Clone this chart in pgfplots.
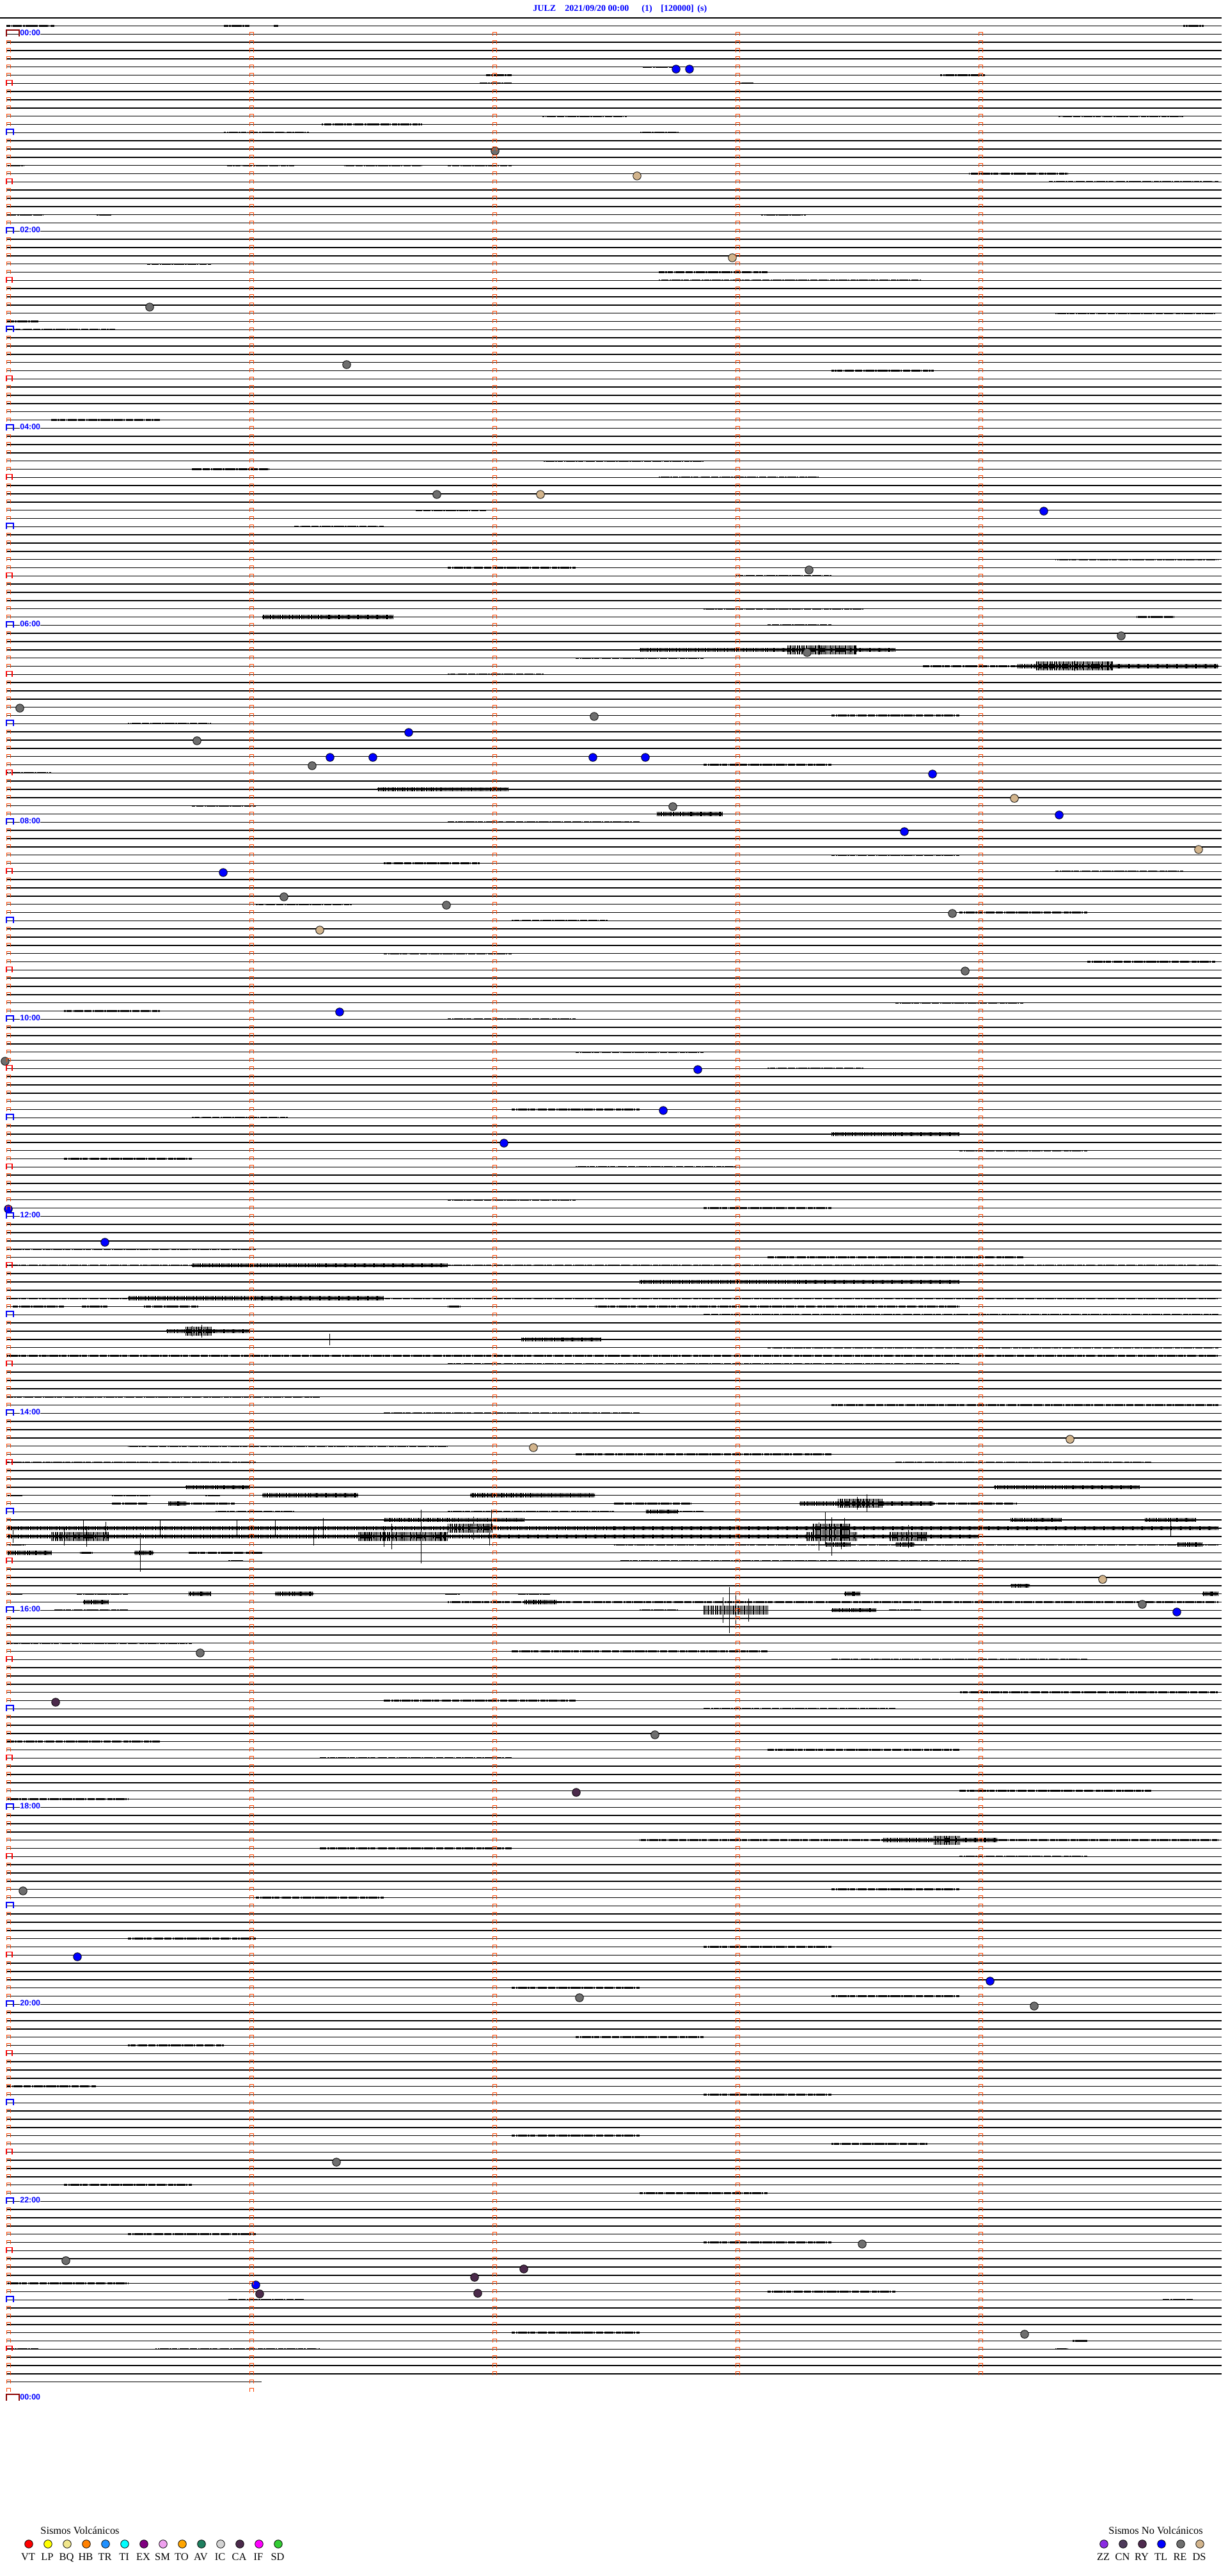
\documentclass[border=0pt]{standalone}
\usepackage{pgfplots}
\usepackage{pgfplotstable}
\pgfplotsset{compat=1.18}
\usepackage{fontspec}
\setmainfont{Liberation Serif}
\newfontfamily\labfont{Liberation Sans}
\definecolor{mko}{HTML}{FF4500}
\definecolor{brk}{HTML}{8B0000}
\definecolor{cVT}{HTML}{FF0000}\definecolor{cLP}{HTML}{FFFF00}\definecolor{cBQ}{HTML}{F0E68C}
\definecolor{cHB}{HTML}{FF8000}\definecolor{cTR}{HTML}{1E90FF}\definecolor{cTI}{HTML}{00FFFF}
\definecolor{cEX}{HTML}{800080}\definecolor{cSM}{HTML}{EEA0EE}\definecolor{cTO}{HTML}{FFA500}
\definecolor{cAV}{HTML}{1F7F5F}\definecolor{cIC}{HTML}{D3D3D3}\definecolor{cCA}{HTML}{4B2A4B}
\definecolor{cIF}{HTML}{FF00FF}\definecolor{cSD}{HTML}{33CC33}
\definecolor{cZZ}{HTML}{8A2BE2}\definecolor{cCN}{HTML}{4E3A5A}\definecolor{cRY}{HTML}{4E2A4E}
\definecolor{cTL}{HTML}{0000FF}\definecolor{cRE}{HTML}{6E6E6E}\definecolor{cDS}{HTML}{D2B48C}

% light noise segments: line index k, start px, end px
\pgfplotstableread{
k a b
-1 10 85
-1 350 390
-1 428 435
-1 1850 1882
2 1370 1440
3 350 526
3 1855 1888
4 1005 1060
5 760 800
5 1470 1540
6 750 800
6 1155 1178
7 373 430
7 690 800
7 1103 1183
7 1340 1540
8 10 29
8 115 145
8 1510 1645
9 33 110
9 508 630
9 1118 1185
10 848 980
10 1655 1850
11 503 660
12 350 483
12 1000 1062
13 1385 1540
14 500 640
15 10 60
15 488 517
15 602 730
15 1050 1210
15 1620 1900
16 10 38
16 355 460
16 538 660
16 700 800
17 1515 1670
18 1640 1905
19 1515 1670
20 10 38
20 158 195
21 720 850
22 10 67
22 150 175
22 1190 1260
25 10 47
25 540 700
26 1400 1520
27 10 47
27 140 155
28 230 330
29 1030 1200
30 1030 1440
31 440 560
33 780 900
34 1650 1900
35 10 60
36 10 180
38 10 100
39 540 700
41 1300 1460
43 590 720
44 1210 1340
45 900 1000
47 80 250
49 50 150
50 1500 1650
52 850 1100
53 300 420
54 1030 1280
55 1620 1780
56 10 330
57 10 330
58 650 760
60 460 600
61 460 600
62 1550 1905
63 1340 1540
64 1650 1905
65 700 900
66 1150 1300
67 1650 1905
68 470 650
69 10 60
70 1100 1350
71 1775 1838
72 1200 1300
73 1410 1605
74 1340 1490
74 1693 1810
75 850 1200
75 1390 1420
75 1610 1680
76 900 1100
77 1443 1590
78 700 850
79 1750 1905
80 10 120
81 400 600
83 1300 1500
84 200 330
85 1000 1150
86 1550 1700
87 600 720
89 1100 1300
90 10 80
91 1700 1900
92 450 590
93 1200 1350
94 300 400
96 700 1000
97 1500 1600
98 50 200
99 900 1050
100 1300 1500
101 600 750
102 1650 1850
103 200 350
104 1000 1200
106 400 550
107 1500 1700
108 800 950
110 10 150
111 1250 1400
112 600 800
113 1700 1900
115 350 500
116 1000 1150
118 1400 1600
119 100 250
120 700 900
122 1550 1750
123 250 400
124 900 1100
126 1200 1350
127 10 100
128 500 650
129 1600 1800
131 800 1000
132 300 450
133 1300 1450
134 1206 1905
135 600 800
136 1500 1700
137 100 300
138 900 1150
139 1350 1550
140 400 600
141 1700 1900
142 700 900
143 1100 1300
145 300 500
146 1400 1700
147 700 1000
148 10 400
149 1200 1600
150 10 1905
151 500 1400
152 10 1905
153 300 1700
154 10 1905
155 20 100
155 128 168
155 225 310
155 700 720
155 930 1500
156 1100 1905
157 400 1000
158 135 260
158 330 390
158 1000 1700
159 10 50
159 600 1300
160 1200 1905
161 10 1905
162 700 1500
163 493 1905
164 400 900
165 1000 1600
166 10 500
167 1300 1905
168 600 1000
169 10 300
170 1100 1500
171 1500 1905
172 200 700
173 900 1300
174 10 400
174 1400 1800
175 480 490
175 555 575
176 90 105
176 700 735
176 800 1905
177 12 75
177 105 140
177 400 500
177 1000 1100
178 12 35
178 175 235
178 320 345
179 175 230
179 291 367
179 960 1080
179 1460 1590
180 337 460
180 700 960
180 1050 1100
181 12 1905
184 12 40
184 960 1905
185 125 145
185 295 410
186 357 380
186 970 1530
187 12 100
187 135 330
187 420 1290
188 182 228
188 1420 1520
188 1790 1905
189 30 270
189 1450 1600
189 1700 1905
190 12 35
190 120 200
190 695 720
190 810 860
191 700 1905
192 85 200
192 1000 1060
192 1390 1440
193 300 560
193 630 1905
195 400 500
195 1220 1400
196 10 300
197 800 1200
198 1300 1700
199 200 600
200 1000 1400
201 10 200
202 1500 1905
203 600 900
204 1100 1400
205 300 500
206 1600 1905
207 800 1100
208 10 250
209 1200 1500
210 500 800
211 1700 1905
212 300 600
213 1000 1300
214 1500 1800
215 10 200
217 700 1000
218 1300 1600
219 200 450
220 1000 1905
221 500 800
222 1500 1700
223 10 150
224 900 1200
226 1300 1500
227 400 600
229 1600 1850
230 700 900
232 200 400
233 1100 1300
235 1500 1700
236 10 200
238 800 1000
239 1300 1500
241 400 650
242 1650 1850
244 900 1100
245 200 350
247 1400 1600
248 600 800
250 10 150
251 1100 1300
253 1500 1800
254 300 500
256 800 1000
257 1300 1450
259 500 700
260 1650 1900
262 100 300
263 1000 1200
265 1400 1600
266 600 800
268 200 400
269 1100 1300
271 1550 1750
272 700 900
274 10 200
275 1200 1400
276 357 475
276 1818 1865
277 10 29
278 1890 1905
280 800 1000
281 1677 1700
282 10 60
282 243 500
282 1650 1670
283 478 500
283 1750 1775
284 10 16
284 333 385
284 1735 1855
285 10 29
}\noiseA

% medium bursts
\pgfplotstableread{
k a b
71 410 615
75 1000 1400
77 1590 1905
92 590 795
95 1027 1130
134 1300 1500
150 300 700
152 1000 1500
154 200 600
158 260 390
159 815 940
177 290 390
177 1554 1782
178 410 560
178 735 930
179 263 290
179 1250 1460
180 1010 1060
181 600 820
181 1580 1660
181 1790 1870
182 12 1905
183 12 1530
184 1290 1330
184 1400 1430
184 1840 1880
185 12 80
185 210 240
189 1580 1610
190 295 330
190 430 490
190 1320 1345
190 1880 1905
191 130 170
191 820 870
192 1300 1370
220 1380 1560
}\noiseB

% strong bursts
\pgfplotstableread{
k a b
75 1230 1340
77 1620 1740
158 290 330
179 1310 1380
182 700 770
182 1270 1330
183 80 170
183 560 700
183 1260 1340
183 1390 1450
192 1100 1200
220 1460 1500
}\noiseC

% spikes: line, x, half length (px)
\pgfplotstableread{
k x h
75 1280 8
77 1680 8
158 300 8
158 315 10
159 515 9
179 1340 10
179 1355 14
181 768 16
182 130 12
182 165 10
182 250 14
182 370 12
182 430 14
182 505 16
182 740 18
182 1290 26
182 1320 16
182 1830 12
183 20 10
183 100 14
183 135 16
183 490 14
183 600 16
183 612 20
183 658 42
183 765 14
183 1280 22
183 1300 30
183 1315 20
183 1420 18
185 219 30
192 1130 20
192 1140 36
192 1150 28
192 1170 18
}\spikes

\tikzset{
 combB/.style={draw=black, line width=3.2pt, dash pattern=on 0.35pt off 0.45pt on 0.7pt off 0.3pt on 0.3pt off 0.8pt on 0.5pt off 0.35pt},
 combC/.style={draw=black, line width=7pt, dash pattern=on 0.3pt off 0.5pt on 0.6pt off 0.35pt on 0.25pt off 0.7pt on 0.45pt off 0.4pt},
 mkst/.style={draw=mko, line width=0.5pt},
 ev/.style={only marks, mark=*, mark size=3.15pt, mark options={draw=black, line width=0.4pt, fill=#1}},
}
\pgfplotsset{
 seg/.style={only marks, mark=*, mark size=0.1pt, mark options={draw=none, fill=none},
   error bars/.cd, x dir=both, x explicit, error mark=none, error bar style={#1}},
}

\begin{document}
\begin{tikzpicture}
\begin{axis}[
  at={(5pt,0pt)}, anchor=south west,
  scale only axis, width=950pt, height=2013.5pt,
  xmin=10, xmax=1910, ymin=0, ymax=4027, y dir=reverse,
  enlargelimits=false, clip=false,
  axis line style={draw=none}, tick style={draw=none},
  xtick=\empty, yticklabels={},
  ytick={40.467,53.3,...,3710.7},
  ymajorgrids, grid style={black, line width=0.75pt},
]
% top frame line and the unfinished last trace
\addplot[black, line width=0.7pt] coordinates {(0,28) (1910,28)};
\addplot[black, line width=0.75pt] coordinates {(10,3723.6) (409,3723.6)};
% light noise
\addplot[seg={draw=black, line width=1.1pt, dash pattern=on 4pt off 0.4pt on 1.5pt off 0.7pt on 7pt off 0.5pt on 0.8pt off 0.9pt}]
  table[x expr={(\thisrow{a}+\thisrow{b})/2}, y expr={53.3+12.833*\thisrow{k}}, x error expr={(\thisrow{b}-\thisrow{a})/2}] {\noiseA};
% medium noise: core + comb
\addplot[seg={draw=black, line width=1.5pt}]
  table[x expr={(\thisrow{a}+\thisrow{b})/2}, y expr={53.3+12.833*\thisrow{k}}, x error expr={(\thisrow{b}-\thisrow{a})/2}] {\noiseB};
\addplot[seg={combB}]
  table[x expr={(\thisrow{a}+\thisrow{b})/2}, y expr={53.3+12.833*\thisrow{k}}, x error expr={(\thisrow{b}-\thisrow{a})/2}] {\noiseB};
% strong bursts
\addplot[seg={combC}]
  table[x expr={(\thisrow{a}+\thisrow{b})/2}, y expr={53.3+12.833*\thisrow{k}}, x error expr={(\thisrow{b}-\thisrow{a})/2}] {\noiseC};
% spikes
\addplot[only marks, mark=*, mark size=0.1pt, mark options={draw=none, fill=none},
  error bars/.cd, y dir=both, y explicit, error mark=none,
  error bar style={draw=black, line width=0.5pt}]
  table[x=x, y expr={53.3+12.833*\thisrow{k}}, y error=h] {\spikes};
% events
\addplot[ev=cTL] table[row sep=\\]{x y\\ 1057 108\\ 1078 108\\ 1632 799\\ 639 1145\\ 516 1184\\ 583 1184\\ 927 1184\\ 1009 1184\\ 1458 1210\\ 1656 1274\\ 1414 1300\\ 349 1364\\ 531 1582\\ 1091 1672\\ 1037 1736\\ 788 1787\\ 13 1890\\ 164 1942\\ 1840 2520\\ 121 3059\\ 1548 3097\\ 400 3572\\};
\addplot[ev=cRE] table[row sep=\\]{x y\\ 774 236\\ 234 480\\ 542 570\\ 683 773\\ 1265 891\\ 1262 1020\\ 1753 994\\ 31 1107\\ 929 1120\\ 308 1158\\ 488 1197\\ 1052 1261\\ 444 1402\\ 698 1415\\ 1489 1428\\ 1509 1518\\ 8 1659\\ 1786 2508\\ 313 2584\\ 1024 2712\\ 36 2956\\ 906 3123\\ 1617 3136\\ 526 3380\\ 103 3534\\ 1348 3508\\ 1602 3649\\};
\addplot[ev=cDS] table[row sep=\\]{x y\\ 996 275\\ 1145 403\\ 845 773\\ 1586 1248\\ 1874 1328\\ 500 1454\\ 834 2263\\ 1673 2250\\ 1724 2469\\};
\addplot[ev=cCA] table[row sep=\\]{x y\\ 87 2661\\ 901 2802\\ 819 3547\\ 742 3560\\ 747 3585\\ 406 3586\\};
\end{axis}

\begin{scope}[x=0.5pt, y=-0.5pt, yshift=2013.5pt]
% timing marks
\foreach \k in {0,...,287}{
  \pgfmathsetmacro{\yy}{53.3+12.833*\k}
  \pgfmathtruncatemacro{\mm}{mod(\k,6)}
  \ifnum\mm=0\relax\else
    \draw[mkst] (10,\yy+2.7) |- (16,\yy-3) -- (16,\yy+2.7);
  \fi
  \ifnum\k<286
    \foreach \xx in {390,770,1150,1530}{\draw[mkst] (\xx,\yy+2.7) |- (\xx+6,\yy-3) -- (\xx+6,\yy+2.7);}
  \else
    \draw[mkst] (390,\yy+2.7) |- (396,\yy-3) -- (396,\yy+2.7);
  \fi
}
\foreach \k in {6,18,...,282}{
  \pgfmathsetmacro{\yy}{53.3+12.833*\k}
  \draw[red, line width=0.6pt] (10,\yy+3.3) |- (19,\yy-4.7) -- (19,\yy+3.3);
}
\foreach \k in {12,24,...,276}{
  \pgfmathsetmacro{\yy}{53.3+12.833*\k}
  \draw[blue, line width=1pt] (9.5,\yy+3.4) |- (20.5,\yy-5) -- (20.5,\yy+3.4);
}
\foreach \yy in {53.3,3749.2}{
  \draw[brk, line width=1pt] (9.5,\yy+3.4) |- (29.5,\yy-6.6) -- (29.5,\yy+3.4);
}
% hour labels
\foreach \k/\t in {0/00:00,24/02:00,48/04:00,72/06:00,96/08:00,120/10:00,144/12:00,168/14:00,192/16:00,216/18:00,240/20:00,264/22:00,288/00:00}{
  \pgfmathsetmacro{\yy}{53.3+12.833*\k}
  \node[anchor=base west, fill=white, inner sep=0pt, text=blue, font=\labfont\bfseries\fontsize{6.2}{7}\selectfont] at (31,\yy+2.7) {\t};
}
% title
\begin{scope}[every node/.style={anchor=base west, inner sep=0pt, text=blue, font=\bfseries\fontsize{7}{8}\selectfont}]
\node at (833,17.3) {JULZ};
\node at (883,17.3) {2021/09/20 00:00};
\node at (1003,17.3) {(1)};
\node at (1033,17.3) {[120000]};
\node at (1090,17.3) {(s)};
\end{scope}
% legends
\begin{scope}[every node/.style={inner sep=0pt, font=\fontsize{8.2}{9}\selectfont}]
\node[anchor=base west] at (63,3962) {Sismos Volcánicos};
\foreach \c/\n [count=\i from 0] in {cVT/VT,cLP/LP,cBQ/BQ,cHB/HB,cTR/TR,cTI/TI,cEX/EX,cSM/SM,cTO/TO,cAV/AV,cIC/IC,cCA/CA,cIF/IF,cSD/SD}{
  \draw[fill=\c, line width=0.4pt] (45+30*\i,3977) circle (6.3);
  \node[anchor=base] at (44+30*\i,4002) {\n};
}
\node[anchor=base west] at (1733,3962) {Sismos No Volcánicos};
\foreach \c/\n [count=\i from 0] in {cZZ/ZZ,cCN/CN,cRY/RY,cTL/TL,cRE/RE,cDS/DS}{
  \draw[fill=\c, line width=0.4pt] (1726+30*\i,3977) circle (6.3);
  \node[anchor=base] at (1725+30*\i,4002) {\n};
}
\end{scope}
\end{scope}
\pgfresetboundingbox
\path[use as bounding box] (0,0) rectangle (960pt,2013.5pt);
\end{tikzpicture}
\end{document}
